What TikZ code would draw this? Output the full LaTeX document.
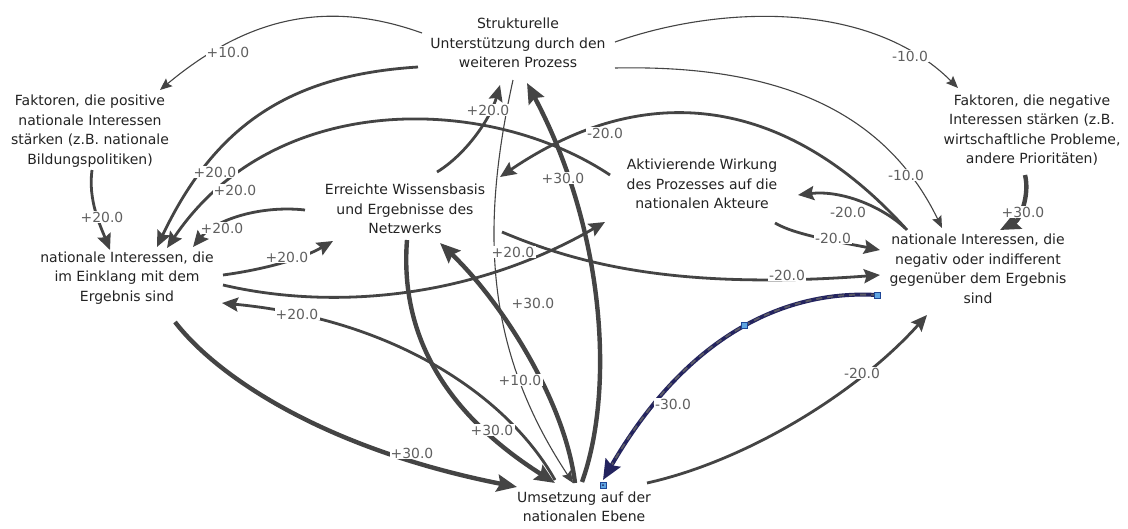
\documentclass[tikz,border=0pt]{standalone}
\usepackage{fontspec}
\setmainfont{DejaVu Sans}
\usetikzlibrary{arrows.meta}

\definecolor{edgegray}{RGB}{68,68,68}
\definecolor{nodetext}{RGB}{35,35,35}
\definecolor{lbltext}{RGB}{95,95,95}
\definecolor{selnavy}{RGB}{36,36,95}
\definecolor{selgray}{RGB}{90,90,100}
\definecolor{handlefill}{RGB}{95,165,225}
\definecolor{handledraw}{RGB}{30,70,150}

\newcommand\boxtextfont{\fontsize{14}{19.5}\selectfont}
\newcommand\edgelabelfont{\fontsize{13.9}{16}\selectfont}

\tikzset{
  txt/.style={font=\boxtextfont, text=nodetext, align=center, inner sep=0pt},
  lbl/.style={font=\edgelabelfont, text=lbltext, fill=white, inner sep=1.2pt},
  w10/.style={draw=edgegray, line width=1.1pt, -{Stealth[length=12pt,width=10pt,inset=2pt]}},
  w20/.style={draw=edgegray, line width=2.8pt, -{Stealth[length=16pt,width=14pt,inset=2.5pt]}},
  w30/.style={draw=edgegray, line width=4.4pt, -{Stealth[length=20pt,width=17pt,inset=3pt]}},
  handle/.style={draw=handledraw, fill=handlefill, line width=0.6pt, minimum size=6pt, inner sep=0pt, rectangle},
}

\begin{document}
\begin{tikzpicture}[x=1pt,y=-1pt]
\useasboundingbox[fill=white] (0,0) rectangle (1128,528);

% factors and outcomes
\node[txt] (S)  at (518,43)  {Strukturelle\\Unterstützung durch den\\weiteren Prozess};
\node[txt] (FP) at (90,131)  {Faktoren, die positive\\nationale Interessen\\stärken (z.B. nationale\\Bildungspolitiken)};
\node[txt] (FN) at (1032,130) {Faktoren, die negative\\Interessen stärken (z.B.\\wirtschaftliche Probleme,\\andere Prioritäten)};
\node[txt] (W)  at (405,209) {Erreichte Wissensbasis\\und Ergebnisse des\\Netzwerks};
\node[txt] (A)  at (702,184) {Aktivierende Wirkung\\des Prozesses auf die\\nationalen Akteure};
\node[txt] (NP) at (127,278) {nationale Interessen, die\\im Einklang mit dem\\Ergebnis sind};
\node[txt] (NN) at (978,269) {nationale Interessen, die\\negativ oder indifferent\\gegenüber dem Ergebnis\\sind};
\node[txt] (U)  at (584,507) {Umsetzung auf der\\nationalen Ebene};

% weak influences (10)
\draw[w10] ([shift={(-96,-10)}]S.center) .. controls (330,0) and (250,15) .. ([shift={(70,-41)}]FP.center);
\draw[w10] ([shift={(97,-1)}]S.center) .. controls (720,5) and (870,0) .. ([shift={(-74,-42)}]FN.center);
\draw[w10] ([shift={(97,25)}]S.center) .. controls (760,65) and (880,100) .. ([shift={(-36,-41)}]NN.center);
\draw[w10] ([shift={(-5,37)}]S.center) .. controls (480,230) and (485,350) .. ([shift={(-11,-24)}]U.center);

% medium influences (20)
\draw[w20] ([shift={(-100,24)}]S.center) .. controls (290,75) and (215,125) .. ([shift={(30,-31)}]NP.center);
\draw[w20] ([shift={(-92,-9)}]A.center) .. controls (490,95) and (275,88) .. ([shift={(40,-30)}]NP.center);
\draw[w20] ([shift={(-100,1)}]W.center) .. controls (260,205) and (215,220) .. ([shift={(66,-31)}]NP.center);
\draw[w20] ([shift={(2,39)}]FP.center) .. controls (88,200) and (100,225) .. ([shift={(-17,-28)}]NP.center);
\draw[w20] ([shift={(96,-3)}]NP.center) .. controls (260,270) and (300,260) .. ([shift={(-72,32)}]W.center);
\draw[w20] ([shift={(96,7)}]NP.center) .. controls (330,310) and (470,300) .. ([shift={(-97,38)}]A.center);
\draw[w20] ([shift={(-29,-27)}]U.center) .. controls (510,400) and (400,320) .. ([shift={(95,25)}]NP.center);
\draw[w20] ([shift={(32,-37)}]W.center) .. controls (465,155) and (490,120) .. ([shift={(-18,42)}]S.center);
\draw[w20] ([shift={(-71,-39)}]NN.center) .. controls (790,100) and (650,75) .. ([shift={(95,-32)}]W.center);
\draw[w20] ([shift={(-73,-41)}]NN.center) .. controls (880,205) and (840,190) .. ([shift={(96,11)}]A.center);
\draw[w20] ([shift={(73,39)}]A.center) .. controls (795,235) and (840,242) .. ([shift={(-98,-19)}]NN.center);
\draw[w20] ([shift={(97,23)}]W.center) .. controls (580,265) and (680,290) .. ([shift={(-98,6)}]NN.center);
\draw[w20] ([shift={(63,-24)}]U.center) .. controls (750,460) and (860,390) .. ([shift={(-51,46)}]NN.center);

% strong influences (30)
\draw[w30] ([shift={(48,44)}]NP.center) .. controls (220,380) and (330,450) .. ([shift={(-67,-20)}]U.center);
\draw[w30] ([shift={(2,31)}]W.center) .. controls (400,330) and (440,410) .. ([shift={(-29,-24)}]U.center);
\draw[w30] ([shift={(-9,-24)}]U.center) .. controls (565,400) and (500,300) .. ([shift={(35,34)}]W.center);
\draw[w30] ([shift={(-2,-25)}]U.center) .. controls (615,390) and (605,230) .. ([shift={(9,40)}]S.center);
\draw[w30] ([shift={(-7,45)}]FN.center) .. controls (1030,195) and (1020,220) .. ([shift={(22,-39)}]NN.center);

% selected connector with its handles
\draw[w30, draw=selnavy, line width=4pt, -{Stealth[length=20pt,width=17pt,inset=3pt]}]
  ([shift={(-101,26)}]NN.center) .. controls (790,290) and (690,330) .. ([shift={(19,-27)}]U.center);
\draw[selgray, line width=1.8pt, dash pattern=on 6pt off 5pt, shorten >=18pt]
  ([shift={(-101,26)}]NN.center) .. controls (790,290) and (690,330) .. ([shift={(19,-27)}]U.center);
\node[handle] (h1) at ([shift={(-101,26)}]NN.center) {};
\node[handle] (h2) at (744,325) {};
\node[handle] (h3) at ([shift={(19,-22)}]U.center) {};
\fill[selnavy] (h3.center) circle (1pt);

% weights
\node[lbl] (l1)  at (228,52)   {+10.0};
\node[lbl] (l2)  at (910,56)   {-10.0};
\node[lbl] (l3)  at (906,175)  {-10.0};
\node[lbl] (l4)  at (215,172)  {+20.0};
\node[lbl] (l5)  at (235,190)  {+20.0};
\node[lbl] (l6)  at (222,228)  {+20.0};
\node[lbl] (l7)  at (102,217)  {+20.0};
\node[lbl] (l8)  at (287,257)  {+20.0};
\node[lbl] (l9)  at (513,252)  {+20.0};
\node[lbl] (l10) at (297,314)  {+20.0};
\node[lbl] (l11) at (412,453)  {+30.0};
\node[lbl] (l12) at (492,430)  {+30.0};
\node[lbl] (l13) at (533,303)  {+30.0};
\node[lbl] (l14) at (520,380)  {+10.0};
\node[lbl] (l15) at (563,178)  {+30.0};
\node[lbl] (l16) at (488,110)  {+20.0};
\node[lbl] (l17) at (605,133)  {-20.0};
\node[lbl] (l18) at (848,212)  {-20.0};
\node[lbl] (l19) at (833,238)  {-20.0};
\node[lbl] (l20) at (787,275)  {-20.0};
\node[lbl] (l21) at (673,404)  {-30.0};
\node[lbl] (l22) at (862,373)  {-20.0};
\node[lbl] (l23) at (1023,212) {+30.0};
\end{tikzpicture}
\end{document}
